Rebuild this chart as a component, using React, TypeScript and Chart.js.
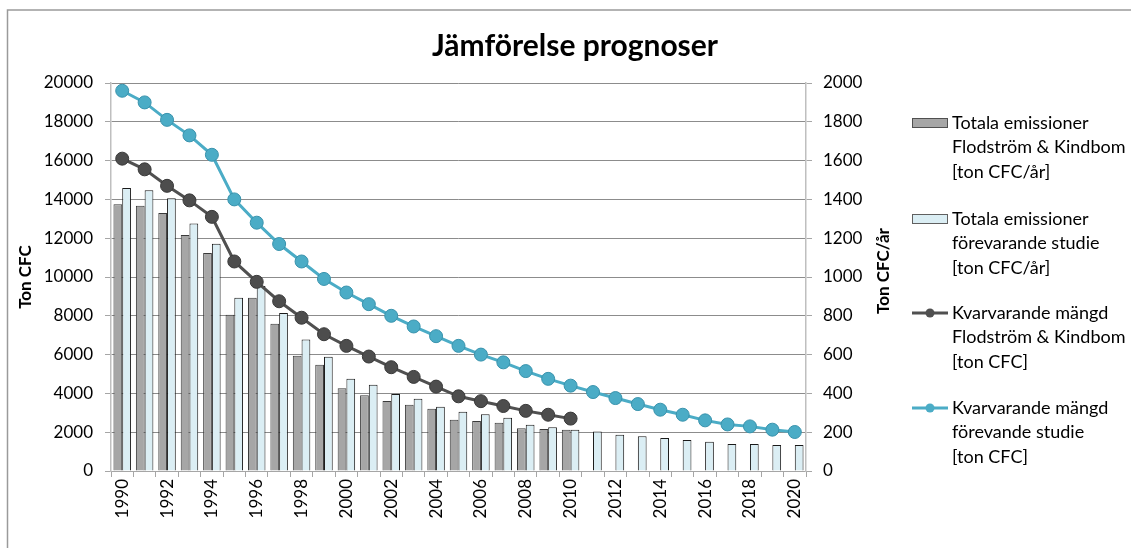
import React, { useEffect, useRef } from "react";
import { Chart, registerables } from "chart.js";

Chart.register(...registerables);

const years = [
  "1990", "1991", "1992", "1993", "1994", "1995", "1996", "1997", "1998", "1999",
  "2000", "2001", "2002", "2003", "2004", "2005", "2006", "2007", "2008", "2009",
  "2010", "2011", "2012", "2013", "2014", "2015", "2016", "2017", "2018", "2019", "2020",
];

// Totala emissioner Flodström & Kindbom [ton CFC/år] (right axis)
const emissionsFK = [
  1375, 1367, 1330, 1217, 1124, 805, 893, 759, 594, 548,
  427, 391, 361, 342, 321, 264, 258, 249, 220, 216, 213,
];

// Totala emissioner förevarande studie [ton CFC/år] (right axis)
const emissionsStudy = [
  1459, 1447, 1406, 1276, 1172, 893, 953, 815, 678, 589,
  476, 445, 397, 373, 331, 306, 292, 275, 239, 225, 213,
  203, 187, 179, 170, 160, 151, 139, 139, 134, 134,
];

// Kvarvarande mängd Flodström & Kindbom [ton CFC] (left axis)
const remainingFK = [
  16100, 15550, 14700, 13950, 13100, 10800, 9750, 8750, 7900, 7050,
  6450, 5900, 5350, 4850, 4350, 3850, 3600, 3350, 3100, 2900, 2700,
];

// Kvarvarande mängd förevande studie [ton CFC] (left axis)
const remainingStudy = [
  19600, 19000, 18100, 17300, 16300, 14000, 12800, 11700, 10800, 9900,
  9200, 8600, 8000, 7450, 6950, 6450, 6000, 5600, 5150, 4750, 4400,
  4070, 3760, 3450, 3160, 2900, 2610, 2400, 2300, 2130, 2010,
];

const titleText = "Jämförelse prognoser";
const leftAxisTitle = "Ton CFC";
const rightAxisTitle = "Ton CFC/år";

const legendLabels = [
  ["Totala emissioner", "Flodström & Kindbom", "[ton CFC/år]"],
  ["Totala emissioner", "förevarande studie", "[ton CFC/år]"],
  ["Kvarvarande mängd", "Flodström & Kindbom", "[ton CFC]"],
  ["Kvarvarande mängd", "förevande studie", "[ton CFC]"],
];

const FONT = "Lato, 'Open Sans', sans-serif";
const GRAY_FILL = "#a6a6a6";
const LIGHT_FILL = "#dbeef4";
const DARK_LINE = "#505050";
const TEAL = "#4bacc6";

const decorPlugin = {
  id: "decor",
  beforeDraw(chart: any) {
    const ctx = chart.ctx;
    ctx.save();
    ctx.fillStyle = "#ffffff";
    ctx.fillRect(0, 0, chart.width, chart.height);
    ctx.strokeStyle = "#9a9a9a";
    ctx.lineWidth = 1.5;
    ctx.beginPath();
    ctx.moveTo(7.5, chart.height);
    ctx.lineTo(7.5, 10);
    ctx.lineTo(chart.width, 10);
    ctx.stroke();
    ctx.restore();
  },
  afterDraw(chart: any) {
    const ctx = chart.ctx;
    const area = chart.chartArea;
    ctx.save();
    // title
    ctx.fillStyle = "#000";
    ctx.font = `bold 30px ${FONT}`;
    ctx.textAlign = "center";
    ctx.textBaseline = "middle";
    ctx.fillText(titleText, 575, 46);

    // axis titles (both read bottom-to-top)
    const cy = (area.top + area.bottom) / 2;
    ctx.font = `bold 17px ${FONT}`;
    ctx.save();
    ctx.translate(26, cy);
    ctx.rotate(-Math.PI / 2);
    ctx.fillText(leftAxisTitle, 0, 0);
    ctx.restore();
    ctx.save();
    ctx.translate(884, cy - 6);
    ctx.rotate(-Math.PI / 2);
    ctx.fillText(rightAxisTitle, 0, 0);
    ctx.restore();

    // legend
    const entryY = [123, 219, 313, 408];
    const lineGap = 24.5;
    ctx.textAlign = "left";
    ctx.font = `18px ${FONT}`;
    legendLabels.forEach((lines, i) => {
      const y = entryY[i];
      if (i < 2) {
        ctx.fillStyle = i === 0 ? GRAY_FILL : LIGHT_FILL;
        ctx.strokeStyle = i === 0 ? "#505050" : "#606060";
        ctx.lineWidth = 1;
        ctx.fillRect(912.5, y - 4.5, 35, 9);
        ctx.strokeRect(912.5, y - 4.5, 35, 9);
      } else {
        const col = i === 2 ? DARK_LINE : TEAL;
        ctx.strokeStyle = col;
        ctx.lineWidth = 3;
        ctx.beginPath();
        ctx.moveTo(912, y);
        ctx.lineTo(948, y);
        ctx.stroke();
        ctx.fillStyle = col;
        ctx.beginPath();
        ctx.arc(930, y, 4.5, 0, Math.PI * 2);
        ctx.fill();
      }
      ctx.fillStyle = "#000";
      lines.forEach((t, j) => {
        ctx.fillText(t, 952, y + j * lineGap);
      });
    });
    ctx.restore();
  },
};

export default function App() {
  const ref = useRef<HTMLCanvasElement | null>(null);

  useEffect(() => {
    if (!ref.current) return;
    const chart = new Chart(ref.current, {
      type: "bar",
      data: {
        labels: years,
        datasets: [
          {
            type: "bar",
            label: legendLabels[0].join(" "),
            data: emissionsFK,
            yAxisID: "y1",
            backgroundColor: GRAY_FILL,
            borderColor: "#3a3a3a",
            borderWidth: 1,
            categoryPercentage: 0.78,
            barPercentage: 1.0,
            order: 2,
          },
          {
            type: "bar",
            label: legendLabels[1].join(" "),
            data: emissionsStudy,
            yAxisID: "y1",
            backgroundColor: LIGHT_FILL,
            borderColor: "#1a1a1a",
            borderWidth: 1,
            categoryPercentage: 0.78,
            barPercentage: 1.0,
            order: 2,
          },
          {
            type: "line",
            label: legendLabels[2].join(" "),
            data: remainingFK,
            yAxisID: "y",
            borderColor: DARK_LINE,
            borderWidth: 3,
            pointRadius: 6.5,
            pointBackgroundColor: "#4d4d4d",
            pointBorderColor: "#3a3a3a",
            pointBorderWidth: 1,
            tension: 0,
            order: 1,
          },
          {
            type: "line",
            label: legendLabels[3].join(" "),
            data: remainingStudy,
            yAxisID: "y",
            borderColor: TEAL,
            borderWidth: 3,
            pointRadius: 6.5,
            pointBackgroundColor: TEAL,
            pointBorderColor: "#3993ad",
            pointBorderWidth: 1,
            tension: 0,
            order: 0,
          },
        ] as any,
      },
      options: {
        responsive: false,
        animation: false,
        layout: { padding: { left: 0, right: 230, top: 83, bottom: 0 } },
        plugins: {
          legend: { display: false },
          title: { display: false },
          tooltip: { enabled: false },
        },
        scales: {
          x: {
            offset: true,
            grid: {
              offset: true,
              drawOnChartArea: false,
              color: "#a6a6a6",
              tickLength: 6,
            },
            border: { color: "#a6a6a6", width: 1 },
            ticks: {
              autoSkip: false,
              minRotation: 90,
              maxRotation: 90,
              padding: 2,
              color: "#000",
              font: { family: FONT, size: 17 },
              callback: (_v: any, i: number) => (i % 2 === 0 ? years[i] : ""),
            },
            afterFit: (s: any) => {
              s.height = 77;
            },
          },
          y: {
            position: "left",
            min: 0,
            max: 20000,
            grid: {
              color: "#8c8c8c",
              tickColor: "#a6a6a6",
              tickLength: 6,
            },
            border: { color: "#bfbfbf", width: 1.5 },
            ticks: {
              stepSize: 2000,
              padding: 12,
              color: "#000",
              font: { family: FONT, size: 17 },
              callback: (v: any) => String(v),
            },
            afterFit: (s: any) => {
              s.width = 111;
            },
          },
          y1: {
            position: "right",
            min: 0,
            max: 2000,
            grid: {
              drawOnChartArea: false,
              color: "#a6a6a6",
              tickLength: 6,
            },
            border: { color: "#bfbfbf", width: 1.5 },
            ticks: {
              stepSize: 200,
              padding: 11,
              color: "#000",
              font: { family: FONT, size: 17 },
              callback: (v: any) => String(v),
            },
            afterFit: (s: any) => {
              s.width = 95;
            },
          },
        },
      } as any,
      plugins: [decorPlugin],
    });
    return () => chart.destroy();
  }, []);

  return (
    <div style={{ position: "fixed", left: 0, top: 0, width: 1131, height: 548 }}>
      <canvas ref={ref} width={1131} height={548} />
    </div>
  );
}
